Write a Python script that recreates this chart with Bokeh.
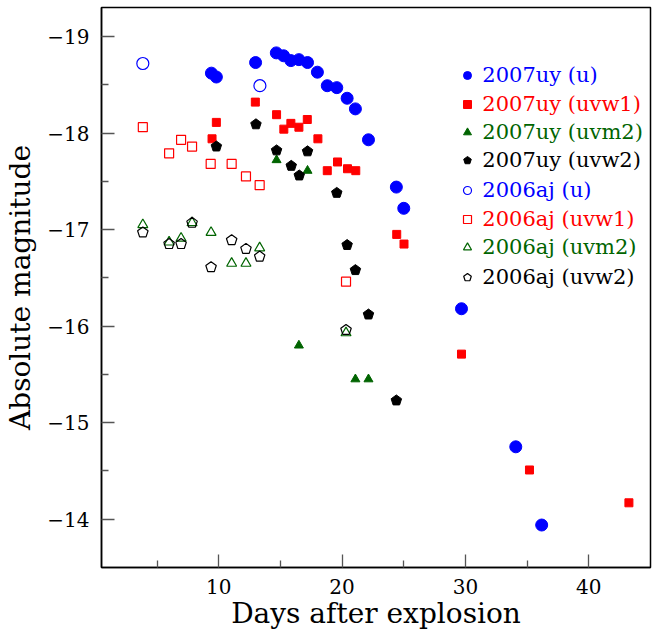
from bokeh.plotting import figure
from bokeh.models import Range1d, FixedTicker, Legend, LegendItem
from bokeh.embed import file_html
from bokeh.resources import INLINE

# ---- data ----
uy_u_x = [9.41, 9.81, 12.99, 14.67, 15.26, 15.85, 16.5, 17.2, 18.0, 18.8, 19.57, 20.41, 21.08, 22.14, 24.4, 25.0, 29.68, 34.08, 36.18]
uy_u_y = [-18.62, -18.58, -18.73, -18.83, -18.80, -18.75, -18.76, -18.73, -18.63, -18.49, -18.47, -18.36, -18.25, -17.93, -17.44, -17.22, -16.18, -14.75, -13.94]

uy_w1_x = [9.46, 9.81, 12.97, 14.69, 15.28, 15.85, 16.5, 17.18, 18.04, 18.8, 19.63, 20.44, 21.11, 24.43, 25.02, 29.68, 35.19, 43.25]
uy_w1_y = [-17.94, -18.11, -18.32, -18.19, -18.04, -18.10, -18.06, -18.14, -17.94, -17.61, -17.70, -17.63, -17.61, -16.95, -16.85, -15.71, -14.51, -14.17]

uy_m2_x = [14.69, 16.5, 17.2, 21.08, 22.14]
uy_m2_y = [-17.72, -15.80, -17.61, -15.45, -15.45]

uy_w2_x = [9.81, 13.02, 14.69, 15.88, 16.53, 17.2, 19.57, 20.41, 21.08, 22.14, 24.4]
uy_w2_y = [-17.86, -18.09, -17.82, -17.66, -17.56, -17.81, -17.38, -16.84, -16.58, -16.12, -15.23]

aj_u_x = [3.85, 13.34]
aj_u_y = [-18.72, -18.49]

aj_w1_x = [3.85, 5.98, 6.95, 7.84, 9.35, 11.05, 12.21, 13.32, 20.32]
aj_w1_y = [-18.06, -17.79, -17.93, -17.86, -17.68, -17.68, -17.55, -17.46, -16.46]

aj_m2_x = [3.85, 5.98, 6.95, 7.84, 9.38, 11.05, 12.21, 13.32, 20.32]
aj_m2_y = [-17.05, -16.87, -16.91, -17.07, -16.97, -16.65, -16.65, -16.81, -15.93]

aj_w2_x = [3.85, 5.98, 6.95, 7.84, 9.38, 11.05, 12.21, 13.32, 20.32]
aj_w2_y = [-16.97, -16.85, -16.85, -17.07, -16.61, -16.89, -16.80, -16.72, -15.96]

x_major = [10, 20, 30, 40]
x_minor = [5, 15, 25, 35]
y_major = [-19, -18, -17, -16, -15, -14]
y_minor = [-18.5, -17.5, -16.5, -15.5, -14.5]
y_labels = {v: "\u2212" + str(abs(v)) for v in y_major}

labels = ["2007uy (u)", "2007uy (uvw1)", "2007uy (uvm2)", "2007uy (uvw2)",
          "2006aj (u)", "2006aj (uvw1)", "2006aj (uvm2)", "2006aj (uvw2)"]

BLUE, RED, GREEN, BLACK = "#0000ff", "#ff0000", "#006400", "#000000"
SERIF = "DejaVu Serif"

p = figure(width=662, height=633, x_range=Range1d(0.5, 45), y_range=Range1d(-13.5, -19.3),
           output_backend="svg", toolbar_location=None,
           min_border_left=101, min_border_right=12, min_border_top=7, min_border_bottom=66)
p.background_fill_color = "white"
p.border_fill_color = "white"
p.grid.visible = False
p.outline_line_color = "black"
p.outline_line_width = 1.5

for ax in (p.xaxis[0], p.yaxis[0]):
    ax.axis_line_color = "black"
    ax.axis_line_width = 1.5
    ax.major_tick_in = 13
    ax.major_tick_out = 0
    ax.minor_tick_in = 7
    ax.minor_tick_out = 0
    ax.major_tick_line_color = "#555555"
    ax.minor_tick_line_color = "#555555"
    ax.major_tick_line_width = 1.3
    ax.minor_tick_line_width = 1.3
    ax.major_label_text_font = SERIF
    ax.major_label_text_font_size = "20px"
    ax.major_label_text_color = "black"
    ax.axis_label_text_font = SERIF
    ax.axis_label_text_font_size = "28px"
    ax.axis_label_text_font_style = "normal"
    ax.axis_label_text_color = "black"

p.xaxis.ticker = FixedTicker(ticks=x_major, minor_ticks=x_minor)
p.yaxis.ticker = FixedTicker(ticks=y_major, minor_ticks=y_minor)
p.yaxis.major_label_overrides = y_labels
p.xaxis.axis_label = "Days after explosion"
p.yaxis.axis_label = "Absolute magnitude"
p.xaxis.major_label_standoff = 11
p.xaxis.axis_label_standoff = 0
p.yaxis.major_label_standoff = 12
p.yaxis.axis_label_standoff = 7

r = []
r.append(p.scatter(uy_u_x, uy_u_y, marker="circle", size=12, fill_color=BLUE, line_color=BLUE))
r.append(p.scatter(uy_w1_x, uy_w1_y, marker="square", size=8, fill_color=RED, line_color=RED))
r.append(p.scatter(uy_m2_x, uy_m2_y, marker="triangle", size=9, fill_color=GREEN, line_color=GREEN))
r.append(p.ngon(uy_w2_x, uy_w2_y, radius=5.5, radius_units="screen", n=5,
                fill_color=BLACK, line_color=BLACK))
r.append(p.scatter(aj_u_x, aj_u_y, marker="circle", size=12, fill_color=None, line_color=BLUE, line_width=1.2))
r.append(p.scatter(aj_w1_x, aj_w1_y, marker="square", size=9, fill_color=None, line_color=RED, line_width=1.2))
r.append(p.scatter(aj_m2_x, aj_m2_y, marker="triangle", size=10, fill_color=None, line_color=GREEN, line_width=1.2))
r.append(p.ngon(aj_w2_x, aj_w2_y, radius=5.5, radius_units="screen", n=5,
                fill_color=None, line_color=BLACK, line_width=1.2))

colors = [BLUE, RED, GREEN, BLACK, BLUE, RED, GREEN, BLACK]
row_centers = [75, 103.3, 131.7, 160, 189.3, 218.3, 246.7, 276.7]
frame_bottom = 566.7
frame_left = 100.7
for lab, ren, col, yc in zip(labels, r, colors, row_centers):
    leg = Legend(items=[LegendItem(label=lab, renderers=[ren])],
                 location=(457 - frame_left, frame_bottom - yc - 12),
                 padding=0, margin=0, spacing=0,
                 glyph_width=20, glyph_height=20, label_standoff=5, label_height=20,
                 border_line_alpha=0, background_fill_alpha=0,
                 label_text_font=SERIF, label_text_font_size="21px", label_text_color=col)
    p.add_layout(leg)

open("out.html", "w").write(file_html(p, INLINE))
